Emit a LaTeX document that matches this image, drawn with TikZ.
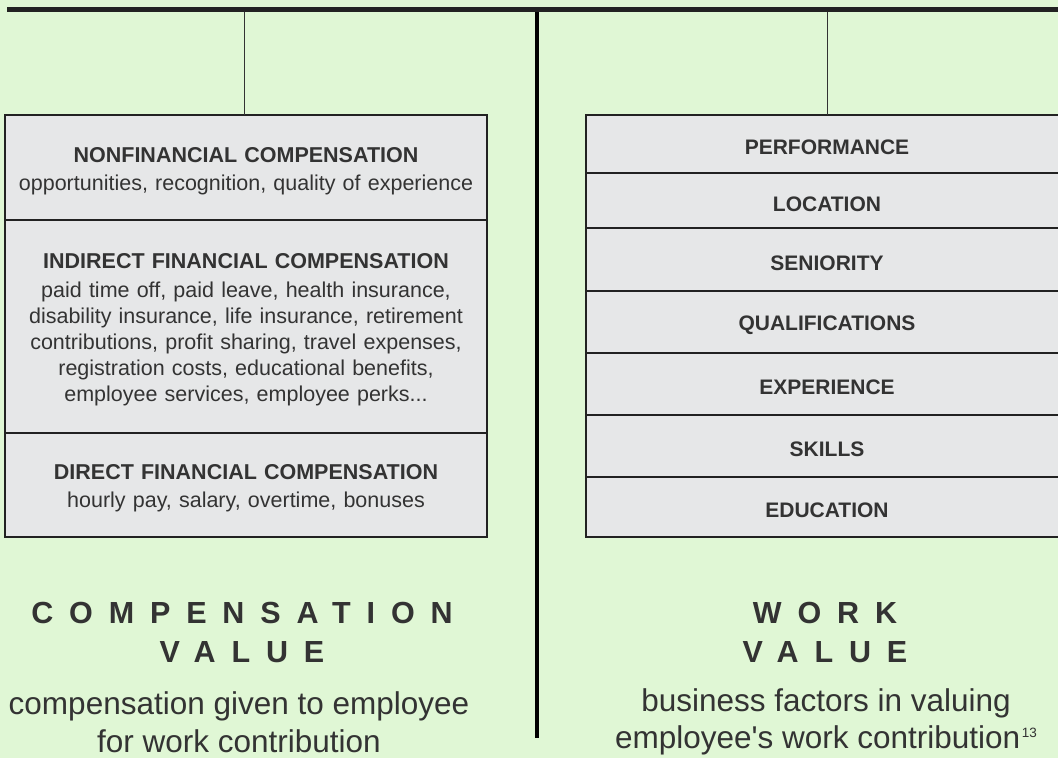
\documentclass[tikz,border=0pt]{standalone}
\usepackage{fontspec}
\setmainfont{Liberation Sans}
\newfontfamily\spacedfont[LetterSpace=52]{Liberation Sans}
\usetikzlibrary{positioning}
\definecolor{bggreen}{HTML}{E0F7D5}
\definecolor{boxgray}{HTML}{E6E7E8}
\definecolor{ink}{HTML}{333333}
\definecolor{rule}{HTML}{222222}
\begin{document}
\begin{tikzpicture}
[
    x=1pt, y=-1pt,
    part/.style={draw=rule, fill=boxgray, line width=1.2pt, outer sep=0pt, inner sep=0pt,
        minimum width=482pt, text width=470pt, align=center, text=ink,
        execute at begin node={\rule{0pt}{22pt}},
        font=\fontsize{21.5}{26}\selectfont},
    factor/.style={part, font=\fontsize{21}{26}\selectfont\bfseries},
    stem/.style={draw=ink, line width=1pt},
    valuetitle/.style={text=ink, align=center, font=\fontsize{30.5}{39}\selectfont\spacedfont\bfseries},
    valuenote/.style={text=ink, align=center, font=\fontsize{31.5}{37.5}\selectfont},
]
\fill[bggreen] (0,0) rectangle (1058,758);
\useasboundingbox (0,0) rectangle (1058,758);
\coordinate (barL) at (7,9.5);
\coordinate (barR) at (1058,9.5);
\coordinate (divtop) at (537,12);
\coordinate (divbot) at (537,738);

\node[part, minimum height=105pt, anchor=north] (nonfin) at (246,115)
    {\textbf{NONFINANCIAL COMPENSATION}\\[2pt]
    opportunities, recognition, quality of experience};
\node[part, minimum height=213pt, below=0pt of nonfin] (indirect)
    {\textbf{INDIRECT FINANCIAL COMPENSATION}\\[3pt]
    paid time off, paid leave, health insurance,\\
    disability insurance, life insurance, retirement\\
    contributions, profit sharing, travel expenses,\\
    registration costs, educational benefits,\\
    employee services, employee perks...};
\node[part, minimum height=104pt, below=0pt of indirect] (direct)
    {\textbf{DIRECT FINANCIAL COMPENSATION}\\[2pt]
    hourly pay, salary, overtime, bonuses};

\foreach \lab/\ya/\yb [count=\i] in {PERFORMANCE/115/173, LOCATION/173/228,
    SENIORITY/228/291, QUALIFICATIONS/291/353, EXPERIENCE/353/415,
    SKILLS/415/477, EDUCATION/477/537}
    \node[factor, minimum height={(\yb-\ya)*1pt}] (f\i) at (827,{(\ya+\yb)/2}) {\lab};

\draw[stem] ([xshift=-2pt]nonfin.north) -- ([xshift=-2pt]nonfin.north |- barL);
\draw[stem] (f1.north) -- (f1.north |- barR);
\draw[rule, line width=5pt] (barL) -- (barR);
\draw[black, line width=4pt] (divtop) -- (divbot);

\node[valuetitle] (comptitle) at (242,632) {COMPENSATION\\VALUE};
\node[valuetitle] (worktitle) at (825,632) {WORK\\VALUE};
\node[valuenote] (compnote) at (239,722) {compensation given to employee\\for work contribution};
\node[valuenote] (worknote) at (826,722) {business factors in valuing\\employee\textquotesingle s work contribution\kern1.5pt\raisebox{11pt}{\fontsize{13.5}{14}\selectfont 13}};
\end{tikzpicture}
\end{document}
